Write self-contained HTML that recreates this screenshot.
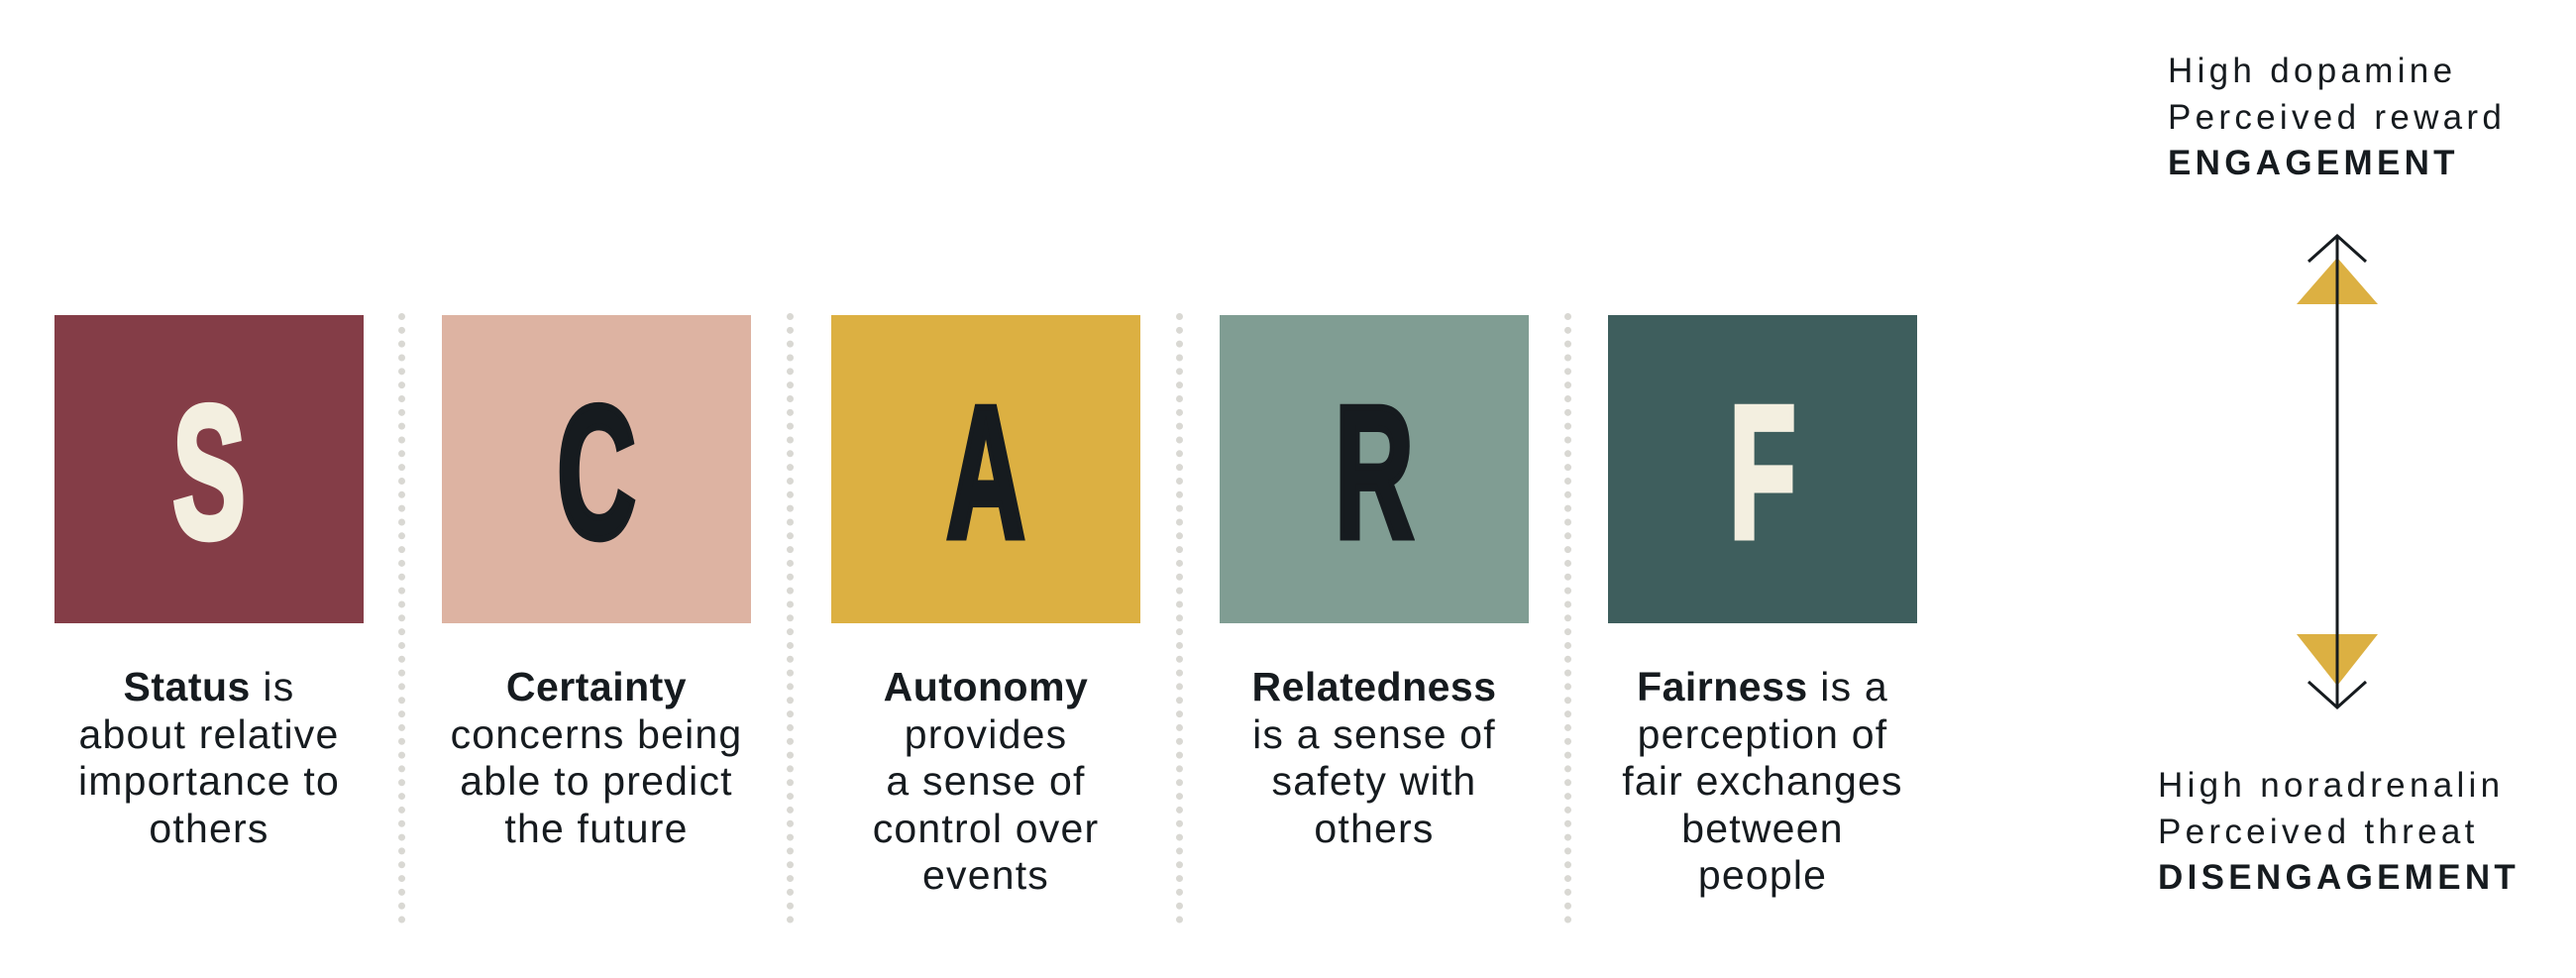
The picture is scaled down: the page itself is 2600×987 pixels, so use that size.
<!DOCTYPE html>
<html><head><meta charset="utf-8"><style>
body{margin:0;width:2600px;height:987px;background:#fff;position:relative;overflow:hidden;font-family:"Liberation Sans",sans-serif;color:#161b1f}
.box{position:absolute;top:318px;width:312px;height:311px}
.L{position:absolute;left:0;width:312px;top:84px;text-align:center;font-weight:bold;font-size:190px;line-height:150px;transform:scaleX(.58);-webkit-text-stroke:7px currentColor}
.dots{position:absolute;top:316px;height:616px;border-left:7px dotted #d9d8d3}
.t{position:absolute;top:670px;width:360px;text-align:center;font-size:41px;line-height:47.5px;letter-spacing:1.2px}
.t b{font-weight:bold;letter-spacing:0.5px}
.r{position:absolute;font-size:35px;line-height:46.5px;letter-spacing:4.3px}
</style></head><body>
<div class="box" style="left:55px;background:#843d47"><div class="L" style="color:#f3efe0">S</div></div>
<div class="box" style="left:446px;background:#ddb3a2"><div class="L">C</div></div>
<div class="box" style="left:839px;background:#dcb042"><div class="L">A</div></div>
<div class="box" style="left:1231px;background:#809d93"><div class="L">R</div></div>
<div class="box" style="left:1623px;background:#3e5e5d"><div class="L" style="color:#f3efe0">F</div></div>
<div class="dots" style="left:402px"></div>
<div class="dots" style="left:794px"></div>
<div class="dots" style="left:1187px"></div>
<div class="dots" style="left:1579px"></div>
<div class="t" style="left:31px"><b>Status</b> is<br>about relative<br>importance to<br>others</div>
<div class="t" style="left:422px"><b>Certainty</b><br>concerns being<br>able to predict<br>the future</div>
<div class="t" style="left:815px"><b>Autonomy</b><br>provides<br>a sense of<br>control over<br>events</div>
<div class="t" style="left:1207px"><b>Relatedness</b><br>is a sense of<br>safety with<br>others</div>
<div class="t" style="left:1599px"><b>Fairness</b> is a<br>perception of<br>fair exchanges<br>between<br>people</div>
<div class="r" style="left:2188px;top:49px">High dopamine<br>Perceived reward<br><b>ENGAGEMENT</b></div>
<div class="r" style="left:2178px;top:770px">High noradrenalin<br>Perceived threat<br><b>DISENGAGEMENT</b></div>
<svg style="position:absolute;left:0;top:0" width="2600" height="987">
<polygon points="2359,260 2318,307 2400,307" fill="#dcb042"/>
<polygon points="2359,692 2318,640 2400,640" fill="#dcb042"/>
<line x1="2359" y1="240" x2="2359" y2="713" stroke="#161b1f" stroke-width="3"/>
<polyline points="2330,264 2359,238 2388,264" fill="none" stroke="#161b1f" stroke-width="3"/>
<polyline points="2330,688 2359,714 2388,688" fill="none" stroke="#161b1f" stroke-width="3"/>
</svg>
</body></html>
